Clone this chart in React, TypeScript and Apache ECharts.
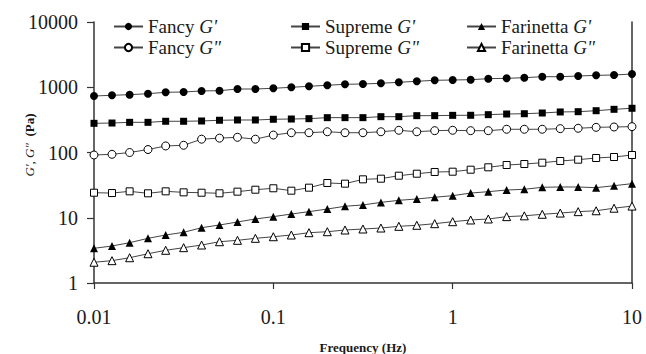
import React, { useEffect, useRef } from "react";
import * as echarts from "echarts";

const frequency = [
  0.01, 0.0126, 0.0158, 0.02, 0.0251, 0.0316, 0.0398, 0.0501, 0.0631, 0.0794,
  0.1, 0.126, 0.158, 0.2, 0.251, 0.316, 0.398, 0.501, 0.631, 0.794,
  1, 1.26, 1.58, 2, 2.51, 3.16, 3.98, 5.01, 6.31, 7.94, 10,
];

const fancyG1 = [734, 753, 769, 797, 837, 846, 877, 886, 940, 940, 964, 998, 1035, 1072, 1110, 1122, 1150, 1191, 1234, 1278, 1291, 1306, 1353, 1371, 1401, 1451, 1451, 1486, 1523, 1540, 1596];
const supremeG1 = [280, 283, 290, 290, 301, 301, 304, 312, 315, 315, 323, 326, 330, 342, 342, 342, 354, 354, 367, 367, 371, 372, 380, 389, 393, 403, 418, 422, 437, 459, 476];
const farinettaG1 = [3.4, 3.69, 4.15, 4.84, 5.44, 5.98, 7.04, 7.74, 8.61, 9.57, 10.4, 11.4, 12.4, 13.6, 15.0, 15.7, 17.2, 18.5, 19.4, 20.6, 21.8, 23.9, 25.1, 26.6, 27.3, 29.3, 29.6, 29.6, 28.9, 31.0, 33.3];
const fancyG2 = [91.6, 93.8, 100, 111, 126, 129, 160, 166, 171, 160, 185, 201, 201, 208, 201, 201, 208, 219, 208, 216, 219, 216, 216, 227, 227, 227, 232, 235, 243, 246, 249];
const supremeG2 = [24.2, 23.9, 25.4, 23.7, 25.4, 24.5, 24.2, 23.7, 25.1, 26.9, 28.3, 26.0, 28.9, 34.1, 33.3, 38.8, 39.7, 44.1, 47.3, 50.3, 50.8, 54.5, 59.3, 64.3, 66.6, 69.8, 74.1, 77.6, 82.4, 85.3, 91.6];
const farinettaG2 = [2.08, 2.2, 2.44, 2.81, 3.17, 3.48, 3.82, 4.29, 4.51, 4.84, 5.12, 5.44, 5.9, 6.11, 6.49, 6.72, 6.96, 7.39, 7.66, 8.11, 8.7, 9.24, 9.57, 10.4, 10.7, 11.3, 11.8, 12.4, 12.8, 14.0, 15.1];

const xTickLabels = ["0.01", "0.1", "1", "10"];
const yTickLabels = ["1", "10", "100", "1000", "10000"];
const yAxisTitle = "{i|G', G\"}  {b|(Pa)}";

const seriesDefs = [
  { name: "Fancy G'", values: fancyG1, symbol: "circle", filled: true, size: 8 },
  { name: "Fancy G\"", values: fancyG2, symbol: "circle", filled: false, size: 8 },
  { name: "Supreme G'", values: supremeG1, symbol: "rect", filled: true, size: 7 },
  { name: "Supreme G\"", values: supremeG2, symbol: "rect", filled: false, size: 7 },
  { name: "Farinetta G'", values: farinettaG1, symbol: "triangle", filled: true, size: 8 },
  { name: "Farinetta G\"", values: farinettaG2, symbol: "triangle", filled: false, size: 8 },
];

const FONT = "Liberation Serif";
const TXT = "#1a1a1a";

export default function App() {
  const ref = useRef<HTMLDivElement>(null);
  useEffect(() => {
    if (!ref.current) return;
    const chart = echarts.init(ref.current, null, { renderer: "svg" });
    const legendText = {
      fontFamily: FONT,
      fontSize: 19,
      color: TXT,
      rich: {
        i: { fontFamily: FONT, fontSize: 19, fontStyle: "italic", color: TXT },
      },
    };
    const fmt = (name: string) => name.replace(/G(.*)$/, "{i|G$1}");
    const mkLegend = (left: number, names: string[]) => ({
      left,
      top: 12,
      orient: "vertical",
      itemWidth: 29,
      itemHeight: 9,
      itemGap: 2,
      textStyle: legendText,
      formatter: fmt,
      data: names,
    });
    const option: any = {
      animation: false,
      backgroundColor: "#ffffff",
      grid: {
        left: 94,
        right: 14,
        top: 22,
        bottom: 71,
        containLabel: false,
        outerBoundsMode: "none",
      },
      graphic: [
        {
          type: "text",
          x: 29,
          y: 145,
          rotation: Math.PI / 2,
          silent: true,
          style: {
            text: yAxisTitle,
            align: "center",
            verticalAlign: "middle",
            fontFamily: FONT,
            fontSize: 13,
            fill: TXT,
            rich: {
              i: { fontFamily: FONT, fontSize: 13, fontStyle: "italic", fill: TXT },
              b: { fontFamily: FONT, fontSize: 13, fontWeight: "bold", fill: TXT },
            },
          },
        },
      ],
      legend: [
        mkLegend(108, ["Fancy G'", "Fancy G\""]),
        mkLegend(285, ["Supreme G'", "Supreme G\""]),
        mkLegend(461, ["Farinetta G'", "Farinetta G\""]),
      ],
      xAxis: {
        type: "log",
        logBase: 10,
        min: 0.01,
        max: 10,
        name: "Frequency (Hz)",
        nameLocation: "middle",
        nameGap: 58,
        nameTextStyle: { fontFamily: FONT, fontSize: 13, fontWeight: "bold", color: TXT },
        axisLine: { show: true, lineStyle: { color: "#333", width: 1.5 } },
        axisTick: { show: true, length: 6, inside: false, lineStyle: { color: "#333", width: 1.2 } },
        minorTick: { show: false },
        splitLine: { show: false },
        axisLabel: {
          margin: 24,
          fontFamily: FONT,
          fontSize: 20,
          color: TXT,
          formatter: (v: number) => {
            const idx = Math.round(Math.log10(v)) + 2;
            return xTickLabels[idx] ?? String(v);
          },
        },
      },
      yAxis: [
        {
          type: "log",
          logBase: 10,
          min: 1,
          max: 10000,
          axisLine: { show: true, lineStyle: { color: "#333", width: 1.5 } },
          axisTick: { show: true, length: 7, inside: false, lineStyle: { color: "#333", width: 1.2 } },
          splitLine: { show: false },
          axisLabel: {
            margin: 16,
            fontFamily: FONT,
            fontSize: 20,
            color: TXT,
            formatter: (v: number) => {
              const idx = Math.round(Math.log10(v));
              return yTickLabels[idx] ?? String(v);
            },
          },
        },
        {
          type: "log",
          logBase: 10,
          min: 1,
          max: 10000,
          position: "right",
          axisLine: { show: true, lineStyle: { color: "#333", width: 1.5 } },
          axisTick: { show: false },
          axisLabel: { show: false },
          splitLine: { show: false },
        },
      ],
      series: seriesDefs.map((s) => ({
        name: s.name,
        type: "line",
        yAxisIndex: 0,
        data: frequency.map((f, i) => [f, s.values[i]]),
        symbol: s.symbol,
        symbolSize: s.size,
        showAllSymbol: true,
        lineStyle: { color: "#444", width: 1 },
        itemStyle: {
          color: s.filled ? "#000" : "#fff",
          borderColor: "#000",
          borderWidth: s.filled ? 0 : 1,
        },
        emphasis: { disabled: true },
      })),
    };
    chart.setOption(option);
    return () => chart.dispose();
  }, []);
  return (
    <div
      ref={ref}
      style={{ position: "fixed", left: 0, top: 0, width: 646, height: 354 }}
    />
  );
}
